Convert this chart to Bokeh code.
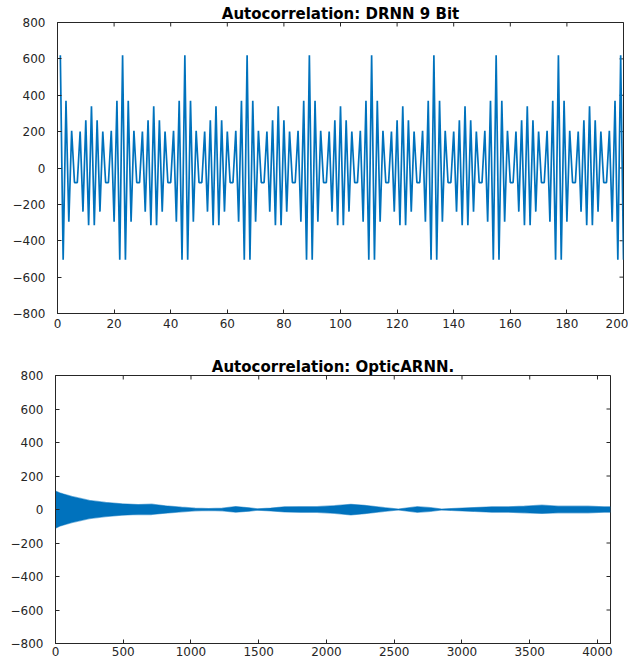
import math
from bokeh.plotting import figure
from bokeh.layouts import column, row
from bokeh.models import Range1d, FixedTicker, ColumnDataSource
from bokeh.embed import file_html
from bokeh.resources import INLINE

# ---------------- data ----------------
# Top: autocorrelation of DRNN 9 Bit, lags 1..200
drnn_lag = list(range(1, 201))
drnn_acf = [
    620, -505, 370, -295, 205, -80, -80, 200, -240, 262, -315, 340, -315, 262, -240, 200, -80, -80, 205, -295, 370, -505,
    620, -505, 370, -295, 205, -80, -80, 200, -240, 262, -315, 340, -315, 262, -240, 200, -80, -80, 205, -295, 370, -505,
    620, -505, 370, -295, 205, -80, -80, 200, -240, 262, -315, 340, -315, 262, -240, 200, -80, -80, 205, -295, 370, -505,
    620, -505, 370, -295, 205, -80, -80, 200, -240, 262, -315, 340, -315, 262, -240, 200, -80, -80, 205, -295, 370, -505,
    620, -505, 370, -295, 205, -80, -80, 200, -240, 262, -315, 340, -315, 262, -240, 200, -80, -80, 205, -295, 370, -505,
    620, -505, 370, -295, 205, -80, -80, 200, -240, 262, -315, 340, -315, 262, -240, 200, -80, -80, 205, -295, 370, -505,
    620, -505, 370, -295, 205, -80, -80, 200, -240, 262, -315, 340, -315, 262, -240, 200, -80, -80, 205, -295, 370, -505,
    620, -505, 370, -295, 205, -80, -80, 200, -240, 262, -315, 340, -315, 262, -240, 200, -80, -80, 205, -295, 370, -505,
    620, -505, 370, -295, 205, -80, -80, 200, -240, 262, -315, 340, -315, 262, -240, 200, -80, -80, 205, -295, 370, -505,
    620, -505,
]

# Bottom: autocorrelation of OpticARNN (dense noise) -> envelope
optic_lag = [0, 30, 60, 120, 250, 370, 490, 610, 710, 810, 930, 1030, 1130, 1230, 1330,
             1430, 1490, 1590, 1690, 1810, 1930, 2060, 2180, 2280, 2430, 2530, 2670, 2770,
             2850, 2920, 3090, 3220, 3340, 3460, 3590, 3710, 3830, 3930, 4050, 4096]
optic_upper = [110, 100, 92, 78, 54, 42, 34, 30, 32, 22, 14, 8, 6, 8, 18,
               10, 4, 9, 16, 17, 17, 23, 31, 25, 11, 3, 17, 11,
               3, 6, 12, 16, 16, 20, 26, 20, 20, 20, 16, 16]
optic_lower = [-112, -100, -92, -78, -54, -42, -34, -30, -30, -22, -14, -8, -6, -8, -16,
               -10, -4, -9, -15, -17, -17, -23, -33, -25, -11, -3, -17, -11,
               -3, -6, -12, -16, -16, -20, -24, -20, -20, -20, -16, -16]

top_xticks = [0, 20, 40, 60, 80, 100, 120, 140, 160, 180, 200]
bot_xticks = [0, 500, 1000, 1500, 2000, 2500, 3000, 3500, 4000]
yticks = [-800, -600, -400, -200, 0, 200, 400, 600, 800]

BLUE = "#0072BD"
AXC = "#262626"
FONT = "DejaVu Sans"


def style_axis(ax, ticks, standoff):
    ax.ticker = FixedTicker(ticks=ticks)
    ax.axis_line_color = AXC
    ax.axis_line_width = 1
    ax.major_tick_line_color = AXC
    ax.major_tick_in = 4
    ax.major_tick_out = 0
    ax.minor_tick_in = 0
    ax.minor_tick_out = 0
    ax.major_label_text_font = FONT
    ax.major_label_text_color = AXC
    ax.major_label_text_font_size = "12px"
    ax.major_label_standoff = standoff


def make_fig(title, width, height, xr, xticks, borders, xstand):
    bl, br, bt, bb = borders
    p = figure(width=width, height=height, x_range=xr, y_range=Range1d(-800, 800),
               output_backend="svg", toolbar_location=None, title=title,
               min_border_left=bl, min_border_right=br, min_border_top=bt,
               min_border_bottom=bb)
    p.grid.visible = False
    p.outline_line_color = AXC
    p.outline_line_width = 1
    p.background_fill_color = "white"
    p.border_fill_color = "white"
    p.title.text_font = FONT
    p.title.text_font_size = "15px"
    p.title.text_font_style = "bold"
    p.title.text_color = "#000000"
    p.title.align = "center"
    p.title.standoff = 0
    p.title.offset = 0
    style_axis(p.xaxis[0], xticks, xstand)
    style_axis(p.yaxis[0], yticks, 12)
    # inward ticks on the top and right edges of the box (half of each dash is clipped)
    p.scatter(x=xticks, y=[p.y_range.end] * len(xticks), marker="dash", angle=math.pi / 2,
              size=8, line_color=AXC, line_width=1)
    p.scatter(x=[xr.end] * len(yticks), y=yticks, marker="dash",
              size=8, line_color=AXC, line_width=1)
    return p


p1 = make_fig("Autocorrelation: DRNN 9 Bit", 628, 343, Range1d(0, 200), top_xticks,
              (57, 5, 22, 30), 5)
src1 = ColumnDataSource(data=dict(x=drnn_lag, y=drnn_acf))
p1.line("x", "y", source=src1, line_color=BLUE, line_width=1.7)

p2 = make_fig("Autocorrelation: OpticARNN.", 628, 317, Range1d(0, 4096), bot_xticks,
              (55, 18, 32, 17), 3)
src2 = ColumnDataSource(data=dict(x=optic_lag, y1=optic_lower, y2=optic_upper))
p2.varea(x="x", y1="y1", y2="y2", source=src2, fill_color=BLUE, fill_alpha=1.0)
p2.line("x", "y2", source=src2, line_color=BLUE, line_width=1.2, line_alpha=0.5)
p2.line("x", "y1", source=src2, line_color=BLUE, line_width=1.2, line_alpha=0.5)

# wrap each figure in its own row so that their frames are not aligned to each other
layout = column(row(p1), row(p2), spacing=0)
open("out.html", "w").write(file_html(layout, INLINE))
